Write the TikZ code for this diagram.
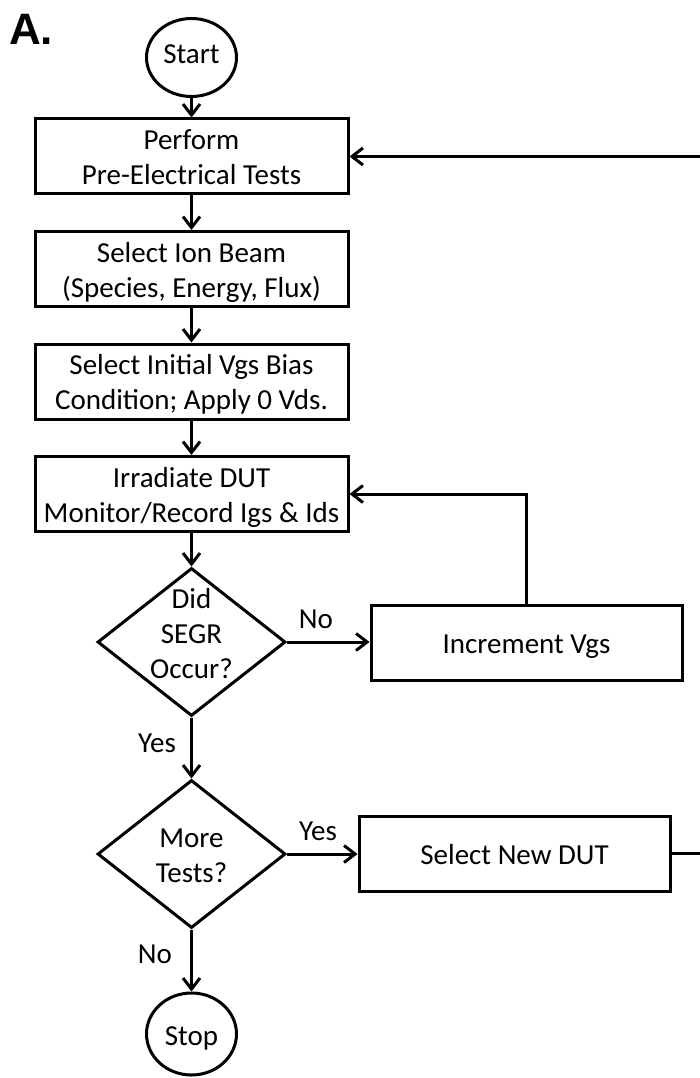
\documentclass[tikz,border=0pt]{standalone}
\usepackage{fontspec}
\setmainfont{Carlito}
\newfontfamily\panelfont{Liberation Sans}
\usetikzlibrary{arrows.meta,shapes.geometric}
\newcommand{\ctext}[2][0pt]{\makebox[0pt]{\smash{\raisebox{#1}{\begin{tabular}{@{}c@{}}#2\end{tabular}}}}}
\begin{document}
\begin{tikzpicture}[x=1pt,y=-1pt,
  every node/.style={font=\fontsize{29}{35}\selectfont, inner sep=0pt},
  boxnode/.style={draw, line width=3pt, minimum width=313pt, minimum height=75pt},
  termnode/.style={draw, ellipse, line width=3pt, minimum width=90pt, minimum height=78pt},
  decnode/.style={draw, diamond, line width=3pt, minimum width=188pt, minimum height=148pt},
  conn/.style={line width=3pt, -{Straight Barb[length=11pt,width=17pt]}},
  lbl/.style={anchor=base}]
\path[use as bounding box] (0,0) rectangle (699,1078);
\node[font=\panelfont\bfseries\fontsize{44}{48}\selectfont, anchor=base west] (panel) at (9,45) {A.};
\node[termnode] (start) at (191.5,57.5) {\ctext[-5.5pt]{Start}};
\node[boxnode] (pre) at (191.5,156.5) {\ctext[-10pt]{Perform\\Pre-Electrical Tests}};
\node[boxnode] (ion) at (191.5,269) {\ctext[-10pt]{Select Ion Beam\\(Species, Energy, Flux)}};
\node[boxnode] (bias) at (191.5,381.5) {\ctext[-10pt]{Select Initial Vgs Bias\\Condition; Apply 0 Vds.}};
\node[boxnode] (irr) at (191.5,494) {\ctext[-10pt]{Irradiate DUT\\Monitor/Record Igs \& Ids}};
\node[decnode] (segr) at (191.5,642) {\ctext[-1pt]{Did\\SEGR\\Occur?}};
\node[boxnode, minimum width=311pt] (inc) at (526.5,643) {\ctext[-10pt]{Increment Vgs}};
\node[decnode] (more) at (191.5,854) {\ctext[-10pt]{More\\Tests?}};
\node[boxnode, minimum width=311pt] (newdut) at (514.5,853.5) {\ctext[-10pt]{Select New DUT}};
\node[termnode, minimum height=82pt] (stop) at (191.5,1034) {\ctext[-11pt]{Stop}};
\coordinate (edge) at (701,0);
\draw[conn] (start.south) -- (pre.north);
\draw[conn] (pre.south) -- (ion.north);
\draw[conn] (ion.south) -- (bias.north);
\draw[conn] (bias.south) -- (irr.north);
\draw[conn] (irr.south) -- (segr.north);
\draw[conn] (segr.east) -- (segr.east -| inc.west);
\draw[conn] (inc.north) |- (irr.east);
\draw[conn] (segr.south) -- (more.north);
\draw[conn] (more.east) -- (more.east -| newdut.west);
\draw[conn] (newdut.east) -- (newdut.east -| edge) |- (pre.east);
\draw[conn] (more.south) -- (stop.north);
\node[lbl] (no1) at (316,628) {No};
\node[lbl] (yes1) at (157,752) {Yes};
\node[lbl] (yes2) at (318,840) {Yes};
\node[lbl] (no2) at (155,963) {No};
\end{tikzpicture}
\end{document}
